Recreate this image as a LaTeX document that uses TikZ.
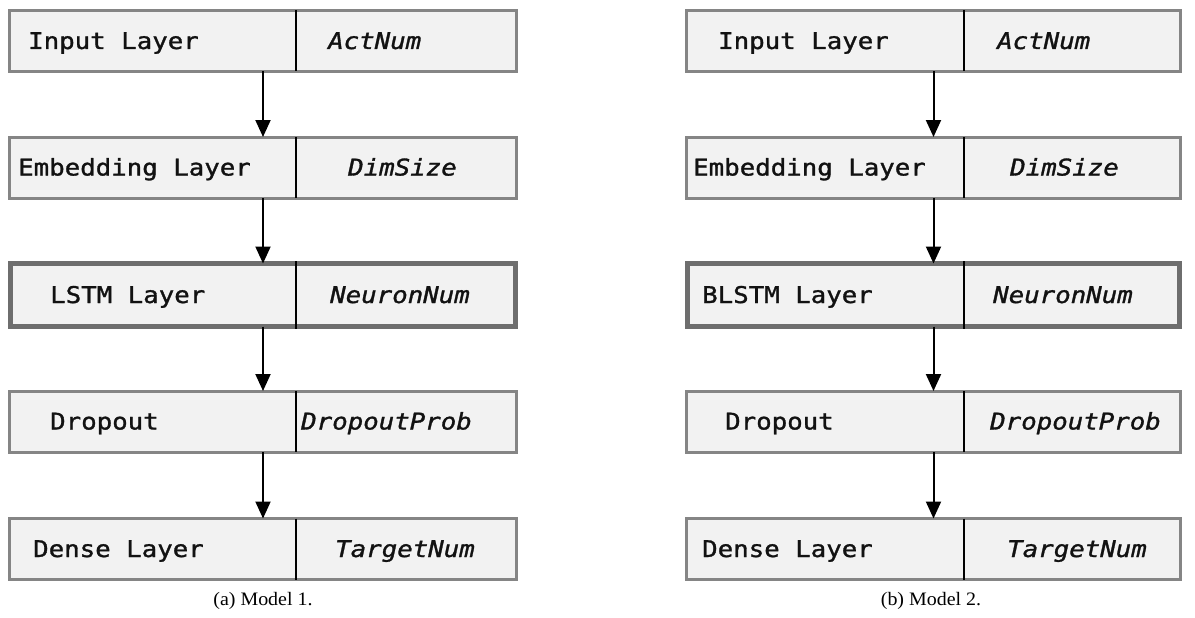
\documentclass[tikz,border=0pt]{standalone}
\usepackage{fontspec}
\setmonofont[FakeStretch=1.12,FakeBold=1.3]{DejaVu Sans Mono}
\newfontfamily\capfont[FakeStretch=1.05]{Liberation Serif}
\usetikzlibrary{arrows.meta}
\definecolor{boxfill}{HTML}{F2F2F2}
\definecolor{boxline}{HTML}{858585}
\definecolor{thickline}{HTML}{6E6E6E}
\definecolor{inktext}{HTML}{121212}
\tikzset{
 layerbox/.style={draw=boxline, line width=3pt, fill=boxfill, rectangle, inner sep=0pt, outer sep=0pt, minimum height=61pt},
 recbox/.style={layerbox, draw=thickline, line width=5pt, minimum height=63pt},
 lab/.style={anchor=base west, inner sep=0pt, font=\fontsize{23}{23}\selectfont\ttfamily, text=inktext},
 parm/.style={anchor=base west, inner sep=0pt, font=\fontsize{23}{23}\selectfont\ttfamily\itshape, text=inktext},
 divider/.style={line width=2pt, black},
 flow/.style={line width=2pt, black, -{Triangle[length=17pt,width=15pt]}},
 subcap/.style={anchor=base, inner sep=0pt, font=\fontsize{19}{19}\selectfont\capfont, text=black}
}
\begin{document}
\begin{tikzpicture}[x=1pt,y=-1pt]
\useasboundingbox (0,0) rectangle (1195,618);
% ---------- left model ----------
\node[layerbox, minimum width=507pt] (L1) at (263,41) {};
\node[layerbox, minimum width=507pt] (L2) at (263,167.5) {};
\node[recbox,   minimum width=505pt] (L3) at (263,295) {};
\node[layerbox, minimum width=507pt] (L4) at (263,421.5) {};
\node[layerbox, minimum width=507pt] (L5) at (263,549) {};
\coordinate (dl) at (296,0);
\foreach \b in {L1,L2,L4,L5}{\draw[divider] (\b.north -| dl) -- (\b.south -| dl);}
\draw[divider] ([yshift=2.5pt]L3.north -| dl) -- ([yshift=-2.5pt]L3.south -| dl);
\draw[flow] (L1.south) -- (L2.north);
\draw[flow] (L2.south) -- (L3.north);
\draw[flow] (L3.south) -- (L4.north);
\draw[flow] (L4.south) -- (L5.north);
\node[lab]  (L1a) at (28,49)   {Input Layer};
\node[parm] (L1b) at (328,49)  {ActNum};
\node[lab]  (L2a) at (18,175.5)    {Embedding Layer};
\node[parm] (L2b) at (348,175.5)   {DimSize};
\node[lab]  (L3a) at (50,303) {LSTM Layer};
\node[parm] (L3b) at (330,303) {NeuronNum};
\node[lab]  (L4a) at (50,429.5)    {Dropout};
\node[parm] (L4b) at (301,429.5)   {DropoutProb};
\node[lab]  (L5a) at (33,557)  {Dense Layer};
\node[parm] (L5b) at (335,557) {TargetNum};
\node[subcap] (capa) at (263,605) {(a) Model 1.};
% ---------- right model ----------
\node[layerbox, minimum width=494pt] (R1) at (933.5,41) {};
\node[layerbox, minimum width=494pt] (R2) at (933.5,167.5) {};
\node[recbox,   minimum width=492pt] (R3) at (933.5,295) {};
\node[layerbox, minimum width=494pt] (R4) at (933.5,421.5) {};
\node[layerbox, minimum width=494pt] (R5) at (933.5,549) {};
\coordinate (dr) at (964,0);
\foreach \b in {R1,R2,R4,R5}{\draw[divider] (\b.north -| dr) -- (\b.south -| dr);}
\draw[divider] ([yshift=2.5pt]R3.north -| dr) -- ([yshift=-2.5pt]R3.south -| dr);
\draw[flow] (R1.south) -- (R2.north);
\draw[flow] (R2.south) -- (R3.north);
\draw[flow] (R3.south) -- (R4.north);
\draw[flow] (R4.south) -- (R5.north);
\node[lab]  (R1a) at (718,49)   {Input Layer};
\node[parm] (R1b) at (997,49)   {ActNum};
\node[lab]  (R2a) at (693,175.5)    {Embedding Layer};
\node[parm] (R2b) at (1010,175.5)   {DimSize};
\node[lab]  (R3a) at (702,303)  {BLSTM Layer};
\node[parm] (R3b) at (993,303)  {NeuronNum};
\node[lab]  (R4a) at (725,429.5)    {Dropout};
\node[parm] (R4b) at (990,429.5)    {DropoutProb};
\node[lab]  (R5a) at (702,557)  {Dense Layer};
\node[parm] (R5b) at (1007,557) {TargetNum};
\node[subcap] (capb) at (931,605) {(b) Model 2.};
\end{tikzpicture}
\end{document}
